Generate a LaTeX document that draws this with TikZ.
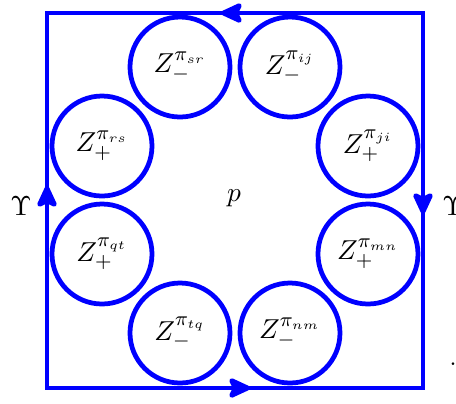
\documentclass[tikz,border=0pt]{standalone}
\usetikzlibrary{arrows.meta}
\begin{document}
\begin{tikzpicture}[x=0.4pt,y=-0.4pt,
  font=\fontsize{11}{13}\selectfont,
  loopline/.style={draw=blue, line width=1.9pt},
  zc/.style={draw=blue, line width=1.9pt, circle, minimum size=40pt, inner sep=0pt},
  tipline/.style={draw=blue, line width=1.9pt, -{Stealth[length=10.5pt,width=9.5pt,inset=2.2pt,round]}}]
\useasboundingbox (0,0) rectangle (456,403);
% frame
\coordinate (tl) at (47,13);
\coordinate (tr) at (423,13);
\coordinate (br) at (423,388);
\coordinate (bl) at (47,388);
\draw[loopline] (tl) -- (tr) -- (br) -- (bl) -- cycle;
% arrow tips at the middle of each side
\coordinate (t1) at (252,13); \coordinate (t2) at (221,13);
\coordinate (r1) at (423,183); \coordinate (r2) at (423,214);
\coordinate (b1) at (218,388); \coordinate (b2) at (250,388);
\coordinate (l1) at (47,217); \coordinate (l2) at (47,186);
\draw[tipline] (t1) -- (t2);
\draw[tipline] (r1) -- (r2);
\draw[tipline] (b1) -- (b2);
\draw[tipline] (l1) -- (l2);
% circles
\node[zc] (sr) at (180,67) {$Z_-^{\pi_{sr}}$};
\node[zc] (ij) at (290,67) {$Z_-^{\pi_{ij}}$};
\node[zc] (ji) at (368,146) {$Z_+^{\pi_{ji}}$};
\node[zc] (mn) at (368,254) {$Z_+^{\pi_{mn}}$};
\node[zc] (nm) at (290,333) {$Z_-^{\pi_{nm}}$};
\node[zc] (tq) at (180,333) {$Z_-^{\pi_{tq}}$};
\node[zc] (qt) at (102,254) {$Z_+^{\pi_{qt}}$};
\node[zc] (rs) at (102,146) {$Z_+^{\pi_{rs}}$};
% labels
\node (p) at (234,198) {$p$};
\node (upl) at (21,206) {$\Upsilon$};
\node (upr) at (453,206) {$\Upsilon$};
\node (dot) at (453,364) {.};
\end{tikzpicture}
\end{document}
